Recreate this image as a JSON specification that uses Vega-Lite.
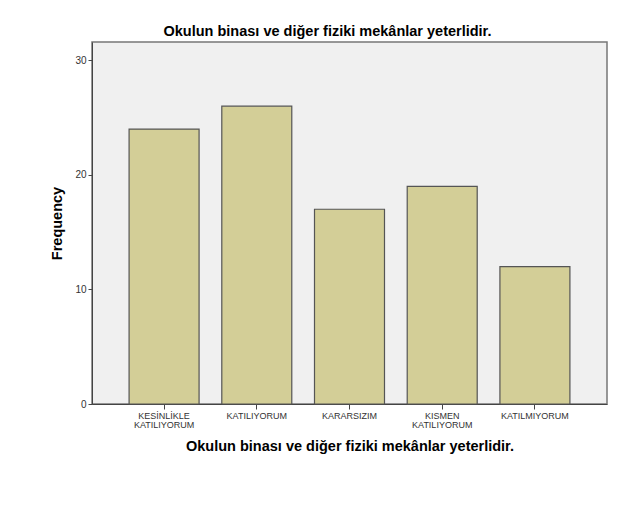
{
  "$schema": "https://vega.github.io/schema/vega-lite/v6.json",
  "width": 515,
  "height": 362,
  "autosize": {"type": "none"},
  "padding": {"left": 92, "top": 42, "right": 30, "bottom": 108},
  "background": "#ffffff",
  "title": {
    "text": "Okulun binası ve diğer fiziki mekânlar yeterlidir.",
    "font": "Liberation Sans",
    "fontSize": 14.5,
    "fontWeight": "bold",
    "color": "#000000",
    "dx": -22,
    "offset": 3
  },
  "data": {
    "values": [
      {"category": "KESİNLİKLE KATILIYORUM", "frequency": 24},
      {"category": "KATILIYORUM", "frequency": 26},
      {"category": "KARARSIZIM", "frequency": 17},
      {"category": "KISMEN KATILIYORUM", "frequency": 19},
      {"category": "KATILMIYORUM", "frequency": 12}
    ]
  },
  "mark": {"type": "bar", "fill": "#D3CE97", "stroke": "#555555", "strokeWidth": 1.2},
  "encoding": {
    "x": {
      "field": "category",
      "type": "nominal",
      "sort": null,
      "scale": {"paddingInner": 0.245, "paddingOuter": 0.4},
      "axis": {
        "title": "Okulun binası ve diğer fiziki mekânlar yeterlidir.",
        "labelAngle": 0,
        "labelExpr": "split(datum.label, ' ')",
        "labelFontSize": 9,
        "labelLineHeight": 9.5,
        "labelPadding": 2,
        "tickSize": 5,
        "titlePadding": 10
      }
    },
    "y": {
      "field": "frequency",
      "type": "quantitative",
      "scale": {"domain": [0, 31.6], "nice": false},
      "axis": {
        "title": "Frequency",
        "values": [0, 10, 20, 30],
        "grid": false,
        "labelFontSize": 10,
        "tickSize": 4,
        "labelPadding": 2,
        "titlePadding": 10
      }
    }
  },
  "config": {
    "view": {"fill": "#F0F0F0", "stroke": "#777777", "strokeWidth": 1.5},
    "axis": {
      "labelFont": "Liberation Sans",
      "labelColor": "#333333",
      "titleFont": "Liberation Sans",
      "titleFontSize": 14.5,
      "titleFontWeight": "bold",
      "titleColor": "#000000",
      "domainColor": "#444444",
      "tickColor": "#444444",
      "domainWidth": 1,
      "tickWidth": 1
    }
  }
}
